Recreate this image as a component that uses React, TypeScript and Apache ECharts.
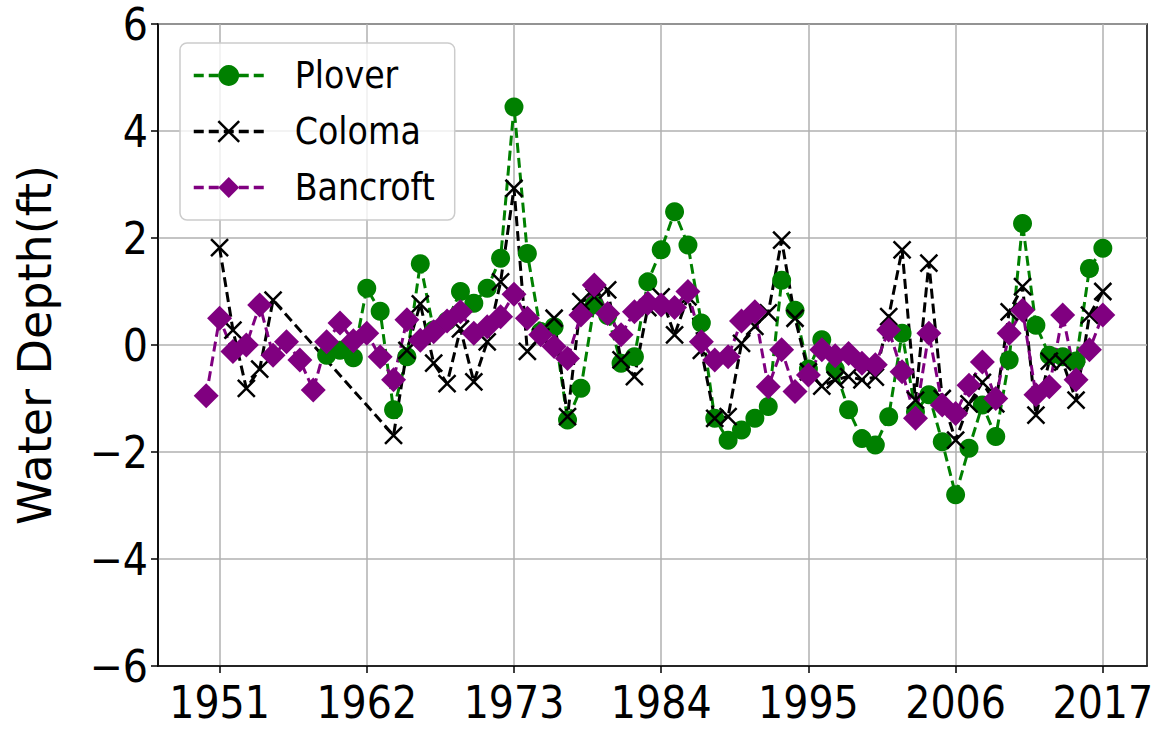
import React, { useEffect, useRef } from "react";
import * as echarts from "echarts";

const years = [
  1950, 1951, 1952, 1953, 1954, 1955, 1956, 1957, 1958, 1959,
  1960, 1961, 1962, 1963, 1964, 1965, 1966, 1967, 1968, 1969,
  1970, 1971, 1972, 1973, 1974, 1975, 1976, 1977, 1978, 1979,
  1980, 1981, 1982, 1983, 1984, 1985, 1986, 1987, 1988, 1989,
  1990, 1991, 1992, 1993, 1994, 1995, 1996, 1997, 1998, 1999,
  2000, 2001, 2002, 2003, 2004, 2005, 2006, 2007, 2008, 2009,
  2010, 2011, 2012, 2013, 2014, 2015, 2016, 2017,
];

const plover: (number | null)[] = [
  null, null, null, null, null, null, null, null, null, -0.19,
  -0.1, -0.24, 1.06, 0.63, -1.21, -0.22, 1.52, 0.28, 0.45, 1.0,
  0.78, 1.06, 1.62, 4.45, 1.71, 0.25, 0.34, -1.4, -0.81, 0.75,
  0.55, -0.34, -0.22, 1.18, 1.78, 2.49, 1.87, 0.41, -1.37, -1.78,
  -1.59, -1.37, -1.15, 1.21, 0.65, -0.45, 0.1, -0.45, -1.21, -1.75,
  -1.87, -1.34, 0.22, -1.25, -0.93, -1.81, -2.8, -1.93, -1.12, -1.71,
  -0.28, 2.27, 0.37, -0.19, -0.22, -0.3, 1.43, 1.81,
];

const coloma: (number | null)[] = [
  null, 1.82, 0.28, -0.81, -0.45, 0.84, null, null, null, null,
  null, null, null, null, -1.69, -0.1, 0.77, -0.34, -0.72, 0.3,
  -0.69, 0.06, 1.18, 2.93, -0.12, 0.15, 0.5, -1.34, 0.81, 0.9,
  1.03, -0.28, -0.59, 0.7, 0.9, 0.19, 0.9, -0.1, -1.37, -1.34,
  0.03, 0.35, 0.6, 1.96, 0.5, -0.5, -0.77, -0.65, -0.59, -0.65,
  -0.6, 0.53, 1.78, -1.03, 1.53, -1.0, -1.78, -1.1, -0.7, -1.1,
  0.62, 1.09, -1.31, -0.3, -0.32, -1.03, 0.56, 1.0,
];

const bancroft: (number | null)[] = [
  -0.95, 0.5, -0.12, 0.0, 0.75, -0.19, 0.06, -0.28, -0.84, 0.06,
  0.41, 0.08, 0.22, -0.22, -0.65, 0.47, 0.09, 0.25, 0.45, 0.62,
  0.22, 0.34, 0.53, 0.95, 0.5, 0.19, -0.03, -0.25, 0.56, 1.12,
  0.59, 0.19, 0.62, 0.78, 0.75, 0.7, 1.0, 0.06, -0.28, -0.22,
  0.45, 0.62, -0.78, -0.09, -0.87, -0.56, -0.09, -0.2, -0.16, -0.34,
  -0.37, 0.28, -0.5, -1.37, 0.22, -1.12, -1.28, -0.75, -0.32, -1.0,
  0.22, 0.65, -0.93, -0.78, 0.56, -0.65, -0.09, 0.56,
];

const xTicks = [1951, 1962, 1973, 1984, 1995, 2006, 2017];
const seriesNames = ["Plover", "Coloma", "Bancroft"];

const toPairs = (vals: (number | null)[]) =>
  years
    .map((y, i) => [y, vals[i]] as [number, number | null])
    .filter((d) => d[1] !== null);

const FONT_C = "'DejaVu Sans Condensed', 'DejaVu Sans', sans-serif";
const FONT = "'DejaVu Sans', sans-serif";
const X_PATH = "path://M0,0L10,10M10,0L0,10";

export default function App() {
  const ref = useRef<HTMLDivElement>(null);
  useEffect(() => {
    if (!ref.current) return;
    const chart = echarts.init(ref.current, undefined, { renderer: "svg" });
    const dash = [10, 5];
    chart.setOption({
      animation: false,
      backgroundColor: "#ffffff",
      grid: {
        left: 158,
        right: 11,
        top: 24,
        bottom: 68,
        show: true,
        borderColor: "#000",
        borderWidth: 1.5,
        backgroundColor: "transparent",
      },
      legend: {
        orient: "vertical",
        left: 180,
        top: 43,
        itemWidth: 70,
        itemHeight: 26,
        itemGap: 19,
        padding: [14, 20, 14, 12],
        backgroundColor: "rgba(255,255,255,0.8)",
        borderColor: "#cccccc",
        borderWidth: 1.5,
        borderRadius: 7,
        lineStyle: { width: 3.5 },
        itemStyle: { borderWidth: 2.5 },
        textStyle: { fontSize: 37, fontFamily: FONT_C, color: "#000", padding: [0, 0, 0, 26] },
        data: seriesNames,
      },
      xAxis: {
        type: "value",
        min: 1946.4,
        max: 2020.3,
        axisLine: { show: true, onZero: false, lineStyle: { color: "#000", width: 1.5 } },
        axisTick: { show: true, customValues: xTicks, length: 7, lineStyle: { color: "#000", width: 1.5 } },
        axisLabel: {
          customValues: xTicks,
          fontSize: 44,
          fontFamily: FONT_C,
          color: "#000",
          margin: 14,
          formatter: (v: number) => String(v),
        },
        splitLine: { show: true, lineStyle: { color: "#b0b0b0", width: 1.5 } },
      },
      yAxis: {
        type: "value",
        min: -6,
        max: 6,
        interval: 2,
        name: "Water Depth(ft)",
        nameLocation: "middle",
        nameGap: 100,
        nameTextStyle: { fontSize: 46, fontFamily: FONT, color: "#000" },
        axisLine: { show: true, onZero: false, lineStyle: { color: "#000", width: 1.5 } },
        axisTick: { show: true, length: 7, lineStyle: { color: "#000", width: 1.5 } },
        axisLabel: {
          fontSize: 44,
          fontFamily: FONT_C,
          color: "#000",
          margin: 10,
          formatter: (v: number) => (v < 0 ? "\u2212" + Math.abs(v) : String(v)),
        },
        splitLine: { show: true, lineStyle: { color: "#b0b0b0", width: 1.5 } },
      },
      series: [
        {
          name: "Plover",
          type: "line",
          data: toPairs(plover),
          symbol: "circle",
          symbolSize: 19,
          itemStyle: { color: "#008000" },
          lineStyle: { color: "#008000", width: 3, type: dash },
        },
        {
          name: "Coloma",
          type: "line",
          data: toPairs(coloma),
          symbol: X_PATH,
          symbolSize: 17,
          itemStyle: { color: "#000000", borderColor: "#000000", borderWidth: 2.5 },
          lineStyle: { color: "#000000", width: 3, type: dash },
        },
        {
          name: "Bancroft",
          type: "line",
          data: toPairs(bancroft),
          symbol: "diamond",
          symbolSize: 25,
          itemStyle: { color: "#800080" },
          lineStyle: { color: "#800080", width: 3, type: dash },
        },
      ],
    });
    return () => chart.dispose();
  }, []);
  return (
    <div
      ref={ref}
      style={{ position: "absolute", left: 0, top: 0, width: 1158, height: 734, background: "#fff" }}
    />
  );
}
